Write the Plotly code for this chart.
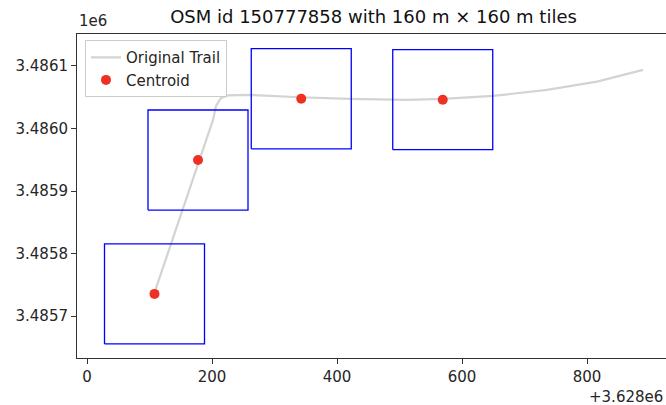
import plotly.graph_objects as go

X_OFFSET = 3628000
TILE = 160

trail_x = [107.2, 201.6, 206.4, 214.4, 225.6, 260.8, 340.8, 420.8, 510.4, 569.6, 649.6, 736, 816, 889.6]
trail_y = [3485735.2, 3486013.6, 3486036, 3486048.8, 3486052.8, 3486053.6, 3486049.9, 3486047.2,
           3486045.6, 3486047.2, 3486052, 3486061.6, 3486074.9, 3486093.6]

cent_x = [108, 177.6, 342.8, 569.2]
cent_y = [3485735.5, 3485949.5, 3486047.5, 3486046]

xticks = [0, 200, 400, 600, 800]
yticks = [3485700, 3485800, 3485900, 3486000, 3486100]
yticklabels = ["3.4857", "3.4858", "3.4859", "3.4860", "3.4861"]

FONT = "DejaVu Sans"
fig = go.Figure()

fig.add_trace(go.Scatter(x=trail_x, y=trail_y, mode="lines",
                         line=dict(color="#d3d3d3", width=2.2),
                         name="Original Trail"))
fig.add_trace(go.Scatter(x=cent_x, y=cent_y, mode="markers",
                         marker=dict(color="#ee3124", size=10),
                         name="Centroid"))

h = TILE / 2
for cx, cy in zip(cent_x, cent_y):
    fig.add_trace(go.Scatter(
        x=[cx - h, cx + h, cx + h, cx - h, cx - h],
        y=[cy - h, cy - h, cy + h, cy + h, cy - h],
        mode="lines", line=dict(color="#0000ff", width=1.3),
        showlegend=False, hoverinfo="skip"))

fig.update_layout(
    width=666, height=405,
    margin=dict(l=77, r=0, t=34, b=47),
    plot_bgcolor="white", paper_bgcolor="white",
    font=dict(family=FONT, size=15, color="#262626"),
    title=dict(text="OSM id 150777858 with 160 m × 160 m tiles",
               x=(77 + 670) / 2 / 666, xanchor="center", y=1 - 17 / 405, yanchor="middle",
               font=dict(size=18, color="#111111")),
    showlegend=True,
    legend=dict(x=0.0136, y=0.981, xanchor="left", yanchor="top",
                bgcolor="rgba(255,255,255,0.8)", bordercolor="#cccccc", borderwidth=1,
                font=dict(size=15, color="#262626"), tracegroupgap=2),
)

fig.update_xaxes(range=[-16, (666 - 87) / 0.625], tickvals=xticks,
                 ticktext=[str(v) for v in xticks],
                 showgrid=False, zeroline=False, showline=True, linecolor="#333333",
                 linewidth=1, mirror=True, ticks="outside", ticklen=5, tickcolor="#333333")
fig.update_yaxes(range=[3485633, 3486151], tickvals=yticks, ticktext=yticklabels,
                 showgrid=False, zeroline=False, showline=True, linecolor="#333333",
                 linewidth=1, ticks="outside", ticklen=5, tickcolor="#333333")

fig.add_annotation(text="1e6", xref="paper", yref="paper", x=0, y=1,
                   xanchor="left", yanchor="bottom", yshift=2, showarrow=False,
                   font=dict(size=15, color="#262626"))
fig.add_annotation(text="+3.628e6", xref="paper", yref="paper", x=1, y=0,
                   xanchor="right", yanchor="top", yshift=-28, xshift=-1, showarrow=False,
                   font=dict(size=15, color="#262626"))

fig.write_html("out.html")
